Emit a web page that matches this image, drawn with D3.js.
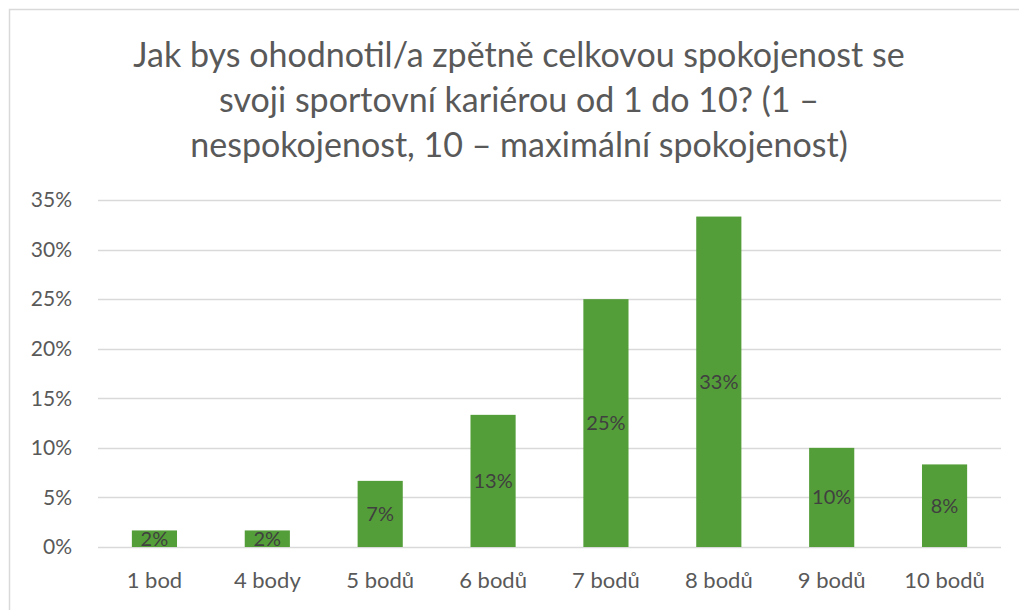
<!DOCTYPE html>
<html>
<head>
<meta charset="utf-8">
<script src="https://cdn.jsdelivr.net/npm/d3@7"></script>
<style>
  body { margin: 0; background: #fff; }
  text { font-family: Lato, "Open Sans", sans-serif; }
</style>
</head>
<body>
<div id="chart"></div>
<script>
const titleLines = [
  'Jak bys ohodnotil/a zpětně celkovou spokojenost se',
  'svoji sportovní kariérou od 1 do 10? (1 –',
  'nespokojenost, 10 – maximální spokojenost)'
];
const categories = ['1 bod', '4 body', '5 bodů', '6 bodů', '7 bodů', '8 bodů', '9 bodů', '10 bodů'];
const values = [0.0167, 0.0167, 0.0667, 0.1333, 0.25, 0.3333, 0.10, 0.0833];
const yTicks = [0, 0.05, 0.10, 0.15, 0.20, 0.25, 0.30, 0.35];

const width = 1019, height = 610;
const margin = {top: 200, right: 18, bottom: 63, left: 98};

const svg = d3.select('#chart').append('svg')
    .attr('width', width)
    .attr('height', height);

// chart frame
svg.append('rect')
    .attr('x', 9.5).attr('y', 9.5)
    .attr('width', width + 10).attr('height', height + 10)
    .attr('fill', 'none')
    .attr('stroke', '#d9d9d9')
    .attr('stroke-width', 1.5);

svg.append('text')
    .attr('text-anchor', 'middle')
    .attr('fill', '#595959')
    .style('font-size', '34px')
  .selectAll('tspan')
    .data(titleLines)
    .join('tspan')
      .attr('x', 519)
      .attr('y', (d, i) => 67 + i * 45)
      .text(d => d);

const x = d3.scaleBand()
    .domain(categories)
    .range([margin.left, width - margin.right])
    .paddingInner(0.6)
    .paddingOuter(0.3);

const y = d3.scaleLinear()
    .domain([0, 0.35])
    .range([height - margin.bottom, margin.top]);

// gridlines
svg.append('g')
  .selectAll('line')
  .data(yTicks)
  .join('line')
    .attr('x1', margin.left)
    .attr('x2', width - margin.right)
    .attr('y1', d => Math.round(y(d)) + 0.5)
    .attr('y2', d => Math.round(y(d)) + 0.5)
    .attr('stroke', '#d9d9d9')
    .attr('stroke-width', 1.5);

// y axis labels
const yAxis = svg.append('g')
    .attr('transform', `translate(${margin.left},0)`)
    .call(d3.axisLeft(y).tickValues(yTicks).tickFormat(d3.format('.0%')).tickSize(0).tickPadding(26));
yAxis.select('.domain').remove();
yAxis.selectAll('text')
    .attr('fill', '#595959')
    .style('font-size', '21px')
    .style('font-family', 'Lato, "Open Sans", sans-serif');

// x axis labels
const xAxis = svg.append('g')
    .attr('transform', `translate(0,${height - margin.bottom})`)
    .call(d3.axisBottom(x).tickSize(0).tickPadding(25));
xAxis.select('.domain').remove();
xAxis.selectAll('text')
    .attr('fill', '#595959')
    .style('font-size', '22px')
    .style('font-family', 'Lato, "Open Sans", sans-serif');

// bars
svg.append('g')
  .selectAll('rect')
  .data(values)
  .join('rect')
    .attr('x', (d, i) => x(categories[i]))
    .attr('y', d => y(d))
    .attr('width', x.bandwidth())
    .attr('height', d => y(0) - y(d))
    .attr('fill', '#549e39');

// data labels
svg.append('g')
  .selectAll('text')
  .data(values)
  .join('text')
    .attr('x', (d, i) => x(categories[i]) + x.bandwidth() / 2)
    .attr('y', d => (y(d) + y(0)) / 2)
    .attr('dy', '0.35em')
    .attr('text-anchor', 'middle')
    .attr('fill', '#404040')
    .style('font-size', '20px')
    .text(d => d3.format('.0%')(d));
</script>
</body>
</html>
